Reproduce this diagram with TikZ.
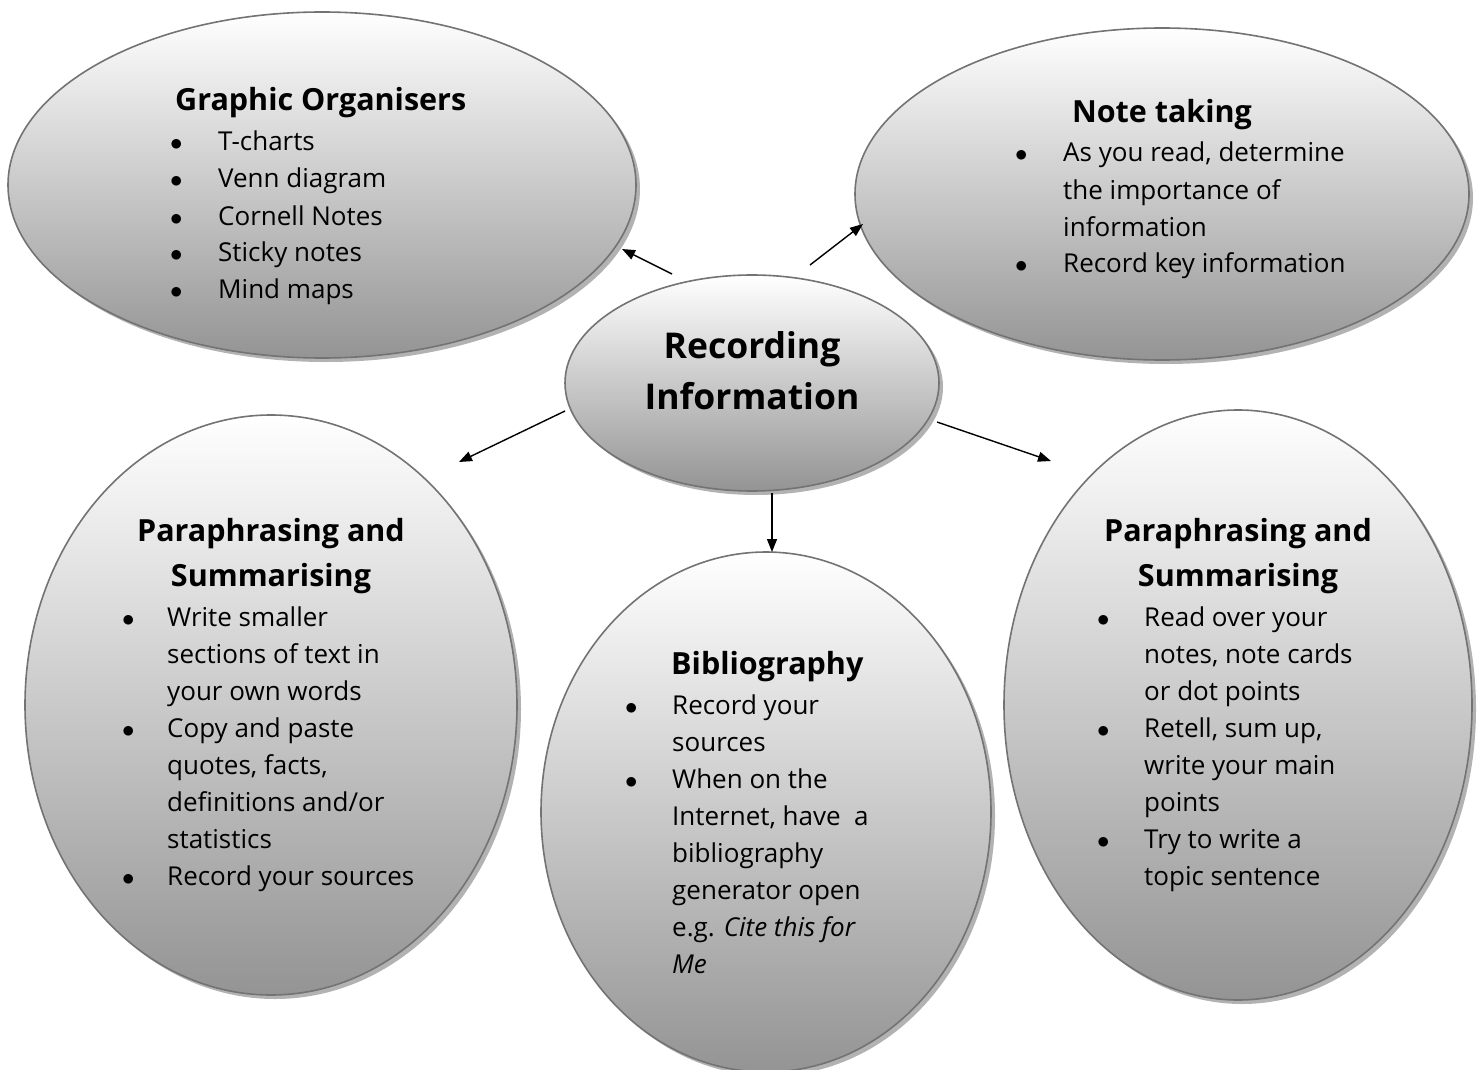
\documentclass[tikz,border=0pt]{standalone}
\usepackage{fontspec}
\setmainfont{Open Sans}
\usetikzlibrary{shapes.geometric,shadows,arrows.meta}
\newlength\bulw
\newcommand\bitem{\makebox[\bulw][l]{$\bullet$}}
\newcommand\bcont{\hspace*{\bulw}}

\begin{document}
\begin{tikzpicture}[x=1pt,y=-1pt,
  bubble/.style={ellipse, draw=black!55, line width=1.6pt, inner sep=0pt,
    top color=white, bottom color=black!42,
    drop shadow={shadow xshift=4pt, shadow yshift=-4pt, fill=black, opacity=0.3}},
  link/.style={-{Triangle[length=13pt,width=10pt]}, line width=1.4pt},
  body/.style={anchor=base west, inner sep=0pt, font=\fontsize{26}{37}\selectfont},
  head/.style={anchor=base, inner sep=0pt, font=\fontsize{30.5}{45}\selectfont\bfseries},
]
\useasboundingbox (0,0) rectangle (1481,1070);

% bubbles
\node[bubble, minimum width=628pt, minimum height=346pt] (go)  at (322,185) {};
\node[bubble, minimum width=614pt, minimum height=332pt] (nt)  at (1162,194) {};
\node[bubble, minimum width=492pt, minimum height=580pt] (lp)  at (271,705) {};
\node[bubble, minimum width=450pt, minimum height=520pt] (bib) at (766,812) {};
\node[bubble, minimum width=468pt, minimum height=590pt] (rp)  at (1238,705) {};
\node[bubble, minimum width=374pt, minimum height=216pt] (rec) at (752,383) {};

% centre title (base anchor sits on the last line)
\node[anchor=base, inner sep=0pt, align=center,
      font=\fontsize{35.5}{51}\selectfont\bfseries] (rect) at (752,409)
  {Recording\\Information};

% Graphic Organisers
\node[head, anchor=base west] (goh) at (175,111) {Graphic Organisers};
\node[body] (gol) at (170,151) {\setlength\bulw{48pt}\begin{tabular}[t]{@{}l@{}}
  \bitem T-charts\\
  \bitem Venn diagram\\
  \bitem Cornell Notes\\
  \bitem Sticky notes\\
  \bitem Mind maps
\end{tabular}};

% Note taking
\node[head] (nth) at (1162,123) {Note taking};
\node[body] (ntl) at (1015,162) {\setlength\bulw{48pt}\begin{tabular}[t]{@{}l@{}}
  \bitem As you read, determine\\
  \bcont the importance of\\
  \bcont information\\
  \bitem Record key information
\end{tabular}};

% Paraphrasing and Summarising (left)
\node[head, align=center] (lph) at (271,586) {Paraphrasing and\\Summarising};
\node[body] (lpl) at (122,626) {\setlength\bulw{45pt}\begin{tabular}[t]{@{}l@{}}
  \bitem Write smaller\\
  \bcont sections of text in\\
  \bcont your own words\\
  \bitem Copy and paste\\
  \bcont quotes, facts,\\
  \bcont definitions and/or\\
  \bcont statistics\\
  \bitem Record your sources
\end{tabular}};

% Bibliography
\node[head, anchor=base west] (bibh) at (671,674) {Bibliography};
\node[body] (bibl) at (625,714) {\setlength\bulw{47pt}\begin{tabular}[t]{@{}l@{}}
  \bitem Record your\\
  \bcont sources\\
  \bitem When on the\\
  \bcont Internet, have\ \ a\\
  \bcont bibliography\\
  \bcont generator open\\
  \bcont e.g. \textit{Cite this for}\\
  \bcont \textit{Me}
\end{tabular}};

% Paraphrasing and Summarising (right)
\node[head, align=center] (rph) at (1238,586) {Paraphrasing and\\Summarising};
\node[body] (rpl) at (1097,626) {\setlength\bulw{47pt}\begin{tabular}[t]{@{}l@{}}
  \bitem Read over your\\
  \bcont notes, note cards\\
  \bcont or dot points\\
  \bitem Retell, sum up,\\
  \bcont write your main\\
  \bcont points\\
  \bitem Try to write a\\
  \bcont topic sentence
\end{tabular}};

% connectors
\coordinate (s1) at (672,274); \coordinate (e1) at (622,249);
\coordinate (s2) at (810,265); \coordinate (e2) at (863,224);
\coordinate (s3) at (565,411); \coordinate (e3) at (459,462);
\coordinate (s4) at (937,422); \coordinate (e4) at (1051,461);
\coordinate (s5) at (772,493); \coordinate (e5) at (772,552);
\draw[link] (s1) -- (e1);
\draw[link] (s2) -- (e2);
\draw[link] (s3) -- (e3);
\draw[link] (s4) -- (e4);
\draw[link] (s5) -- (e5);
\end{tikzpicture}
\end{document}
